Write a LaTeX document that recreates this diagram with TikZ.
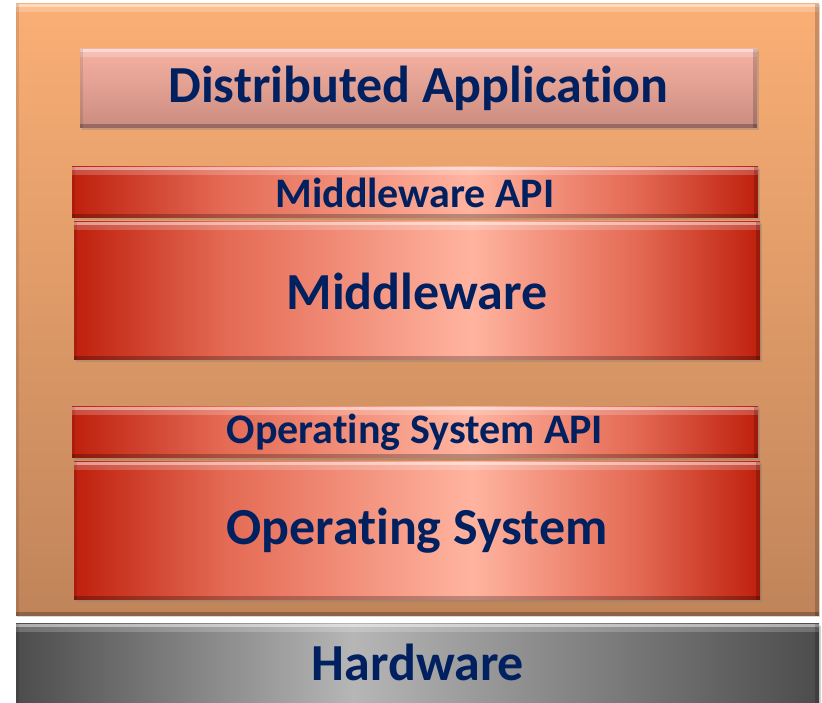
\documentclass[tikz,border=0pt]{standalone}
\usepackage{fontspec}
\setmainfont{Carlito}[Ligatures={NoCommon,NoRequired,NoContextual}]
\usetikzlibrary{shadows}

\definecolor{inktext}{HTML}{002060}
\definecolor{redEdge}{HTML}{BE200D}
\definecolor{redMid}{HTML}{E46A54}
\definecolor{redLight}{HTML}{FFB4A0}
\definecolor{grayEdge}{HTML}{4C4C4C}
\definecolor{grayLight}{HTML}{B6B6B6}
\definecolor{orangeTop}{HTML}{FAAF75}
\definecolor{orangeBot}{HTML}{C0845A}
\definecolor{pinkTop}{HTML}{F6B2A2}
\definecolor{pinkBot}{HTML}{CA8C80}

% red bars: dark at both ends, brightest a little right of centre
\pgfdeclarehorizontalshading{redbar}{100bp}{%
  color(0bp)=(redEdge); color(25bp)=(redEdge); color(36bp)=(redMid);
  color(54bp)=(redLight); color(66bp)=(redMid);
  color(75bp)=(redEdge); color(100bp)=(redEdge)}
% hardware bar: grey, bright a little left of centre
\pgfdeclarehorizontalshading{graybar}{100bp}{%
  color(0bp)=(grayEdge); color(25bp)=(grayEdge); color(46bp)=(grayLight);
  color(75bp)=(grayEdge); color(100bp)=(grayEdge)}

\tikzset{
  bevel/.style={path picture={
    \fill[white,opacity=.55] (path picture bounding box.north west)
      rectangle ([yshift=-3pt]path picture bounding box.north east);
    \fill[white,opacity=.2] ([yshift=-3pt]path picture bounding box.north west)
      rectangle ([yshift=-8pt]path picture bounding box.north east);
    \fill[black,opacity=.25] (path picture bounding box.south west)
      rectangle ([yshift=4pt]path picture bounding box.south east);
    \fill[black,opacity=.18] (path picture bounding box.south east)
      rectangle ([xshift=-4pt]path picture bounding box.north east);
    \fill[black,opacity=.10] (path picture bounding box.south west)
      rectangle ([xshift=3pt]path picture bounding box.north west);
  }},
  layer/.style={rectangle, inner sep=0pt, text=inktext,
    font=\bfseries\fontsize{52}{60}\selectfont, bevel,
    drop shadow={shadow xshift=1.5pt, shadow yshift=-2pt, opacity=.35}},
  redlayer/.style={layer, shading=redbar},
  apilayer/.style={redlayer, font=\bfseries\fontsize{42}{48}\selectfont},
}

\begin{document}
\begin{tikzpicture}[x=1pt,y=1pt]
  \useasboundingbox (0,0) rectangle (822,703);
  \fill[white] (0,0) rectangle (822,703);

  % orange frame holding the software stack
  \node[rectangle, inner sep=0pt, minimum width=803pt, minimum height=612pt,
        top color=orangeTop, bottom color=orangeBot, bevel,
        drop shadow={shadow xshift=1pt, shadow yshift=-1.5pt, opacity=.3}]
    (stack) at (417.5,393) {};

  \node[layer, top color=pinkTop, bottom color=pinkBot,
        minimum width=677pt, minimum height=79pt]
    (app) at (418.5,614.5) {Distributed Application};

  \node[apilayer, minimum width=686pt, minimum height=51pt]
    (mwapi) at (415,510.5) {Middleware API};
  \node[redlayer, minimum width=686pt, minimum height=138pt]
    (mw) at (417,412) {Middleware};

  \node[apilayer, minimum width=686pt, minimum height=51pt]
    (osapi) at (415,270.5) {Operating System API};
  \node[redlayer, minimum width=686pt, minimum height=138pt]
    (os) at (417,172) {Operating System};

  \node[layer, shading=graybar, minimum width=803pt, minimum height=90pt]
    (hw) at (417.5,34) {};
  \node[text=inktext, font=\bfseries\fontsize{52}{60}\selectfont, inner sep=0pt]
    (hwlabel) at (418,41) {Hardware};
\end{tikzpicture}
\end{document}
